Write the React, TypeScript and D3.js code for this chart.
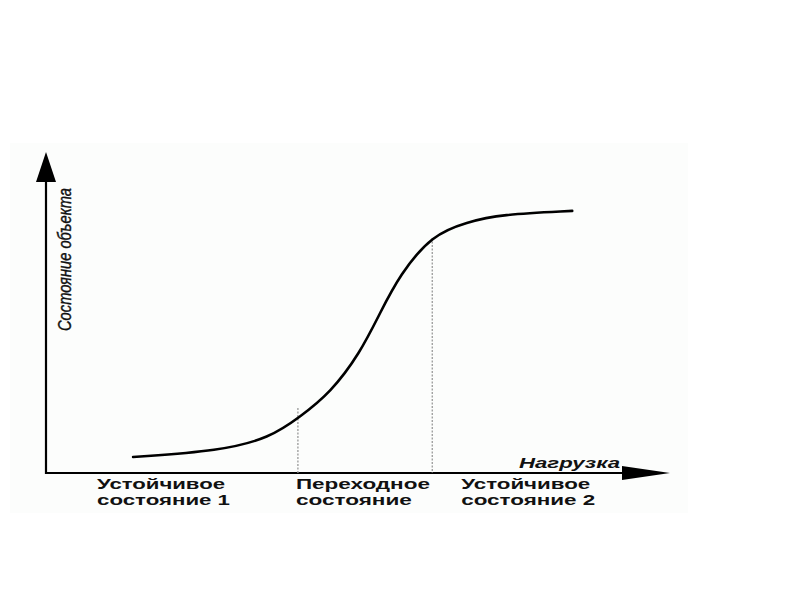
import { useRef, useEffect } from "react";
import * as d3 from "d3";

// load (x) and object state (y), both in 0..100 units
const loadValues: number[] = [14, 28, 36, 40.8, 45.7, 50.5, 53.7, 56.9, 62.1, 67.7, 73, 84.6];
const stateValues: number[] = [5, 6.9, 11, 17.5, 25, 37.5, 50, 62, 74.5, 78.4, 80.8, 81.9];

// borders of the transition zone and the top of their dotted guides
const zoneBounds: number[] = [40.5, 62.1];
const guideTops: number[] = [20.3, 73.4];

const zoneLabels: string[][] = [
  ["Устойчивое", "состояние 1"],
  ["Переходное", "состояние"],
  ["Устойчивое", "состояние 2"],
];
const xTitle = "Нагрузка";
const yTitle = "Состояние объекта";

const width = 800;
const height = 600;

const App = () => {
  const svgRef = useRef<SVGSVGElement>(null);

  useEffect(() => {
    const svg = d3.select(svgRef.current);
    svg.selectAll("*").remove();

    const xScale = d3.scaleLinear().domain([0, 100]).range([46, 668]);
    const yScale = d3.scaleLinear().domain([0, 100]).range([473, 153]);

    // faint scanned-page panel
    svg.append("rect")
      .attr("x", 10).attr("y", 143)
      .attr("width", 678).attr("height", 370)
      .attr("fill", "#fcfdfc");

    const x0 = xScale(0);
    const y0 = yScale(0);

    // axes
    svg.append("line")
      .attr("x1", x0).attr("y1", y0 + 1)
      .attr("x2", x0).attr("y2", yScale(100) + 20)
      .attr("stroke", "#000").attr("stroke-width", 2.2);
    svg.append("path")
      .attr("d", `M${x0},${yScale(100) - 1} L${x0 - 10},${yScale(100) + 29} L${x0 + 10},${yScale(100) + 29} Z`)
      .attr("fill", "#000");

    svg.append("line")
      .attr("x1", x0 - 1).attr("y1", y0)
      .attr("x2", xScale(100) - 30).attr("y2", y0)
      .attr("stroke", "#000").attr("stroke-width", 2.2);
    svg.append("path")
      .attr("d", `M${xScale(100) + 2},${y0} L${xScale(100) - 46},${y0 - 7} L${xScale(100) - 46},${y0 + 7} Z`)
      .attr("fill", "#000");

    // dotted zone borders
    svg.selectAll(".guide")
      .data(zoneBounds)
      .join("line")
      .attr("class", "guide")
      .attr("x1", d => xScale(d)).attr("x2", d => xScale(d))
      .attr("y1", (_, i) => yScale(guideTops[i]))
      .attr("y2", y0)
      .attr("stroke", "#9a9a9a")
      .attr("stroke-width", 1.3)
      .attr("stroke-dasharray", "2,1.5");

    // S-curve
    const pts: [number, number][] = loadValues.map((v, i) => [v, stateValues[i]]);
    const line = d3.line<[number, number]>()
      .x(d => xScale(d[0]))
      .y(d => yScale(d[1]))
      .curve(d3.curveBasis);
    svg.append("path")
      .attr("d", line(pts))
      .attr("fill", "none")
      .attr("stroke", "#000")
      .attr("stroke-width", 2.6)
      .attr("stroke-linecap", "round");

    // zone labels
    const labelX = [x0 + 51, xScale(zoneBounds[0]) - 2, xScale(zoneBounds[1]) + 29];
    const labelW = [[128, 133], [134, 116], [129, 134]];
    zoneLabels.forEach((lines, i) => {
      lines.forEach((t, j) => {
        svg.append("text")
          .attr("x", labelX[i])
          .attr("y", y0 + 16 + j * 16)
          .attr("font-family", "Liberation Sans, Arial, sans-serif")
          .attr("font-weight", "bold")
          .attr("font-size", 15)
          .attr("textLength", labelW[i][j])
          .attr("lengthAdjust", "spacingAndGlyphs")
          .attr("fill", "#111")
          .text(t);
      });
    });

    svg.append("text")
      .attr("x", xScale(100) - 149)
      .attr("y", y0 - 5)
      .attr("font-family", "Liberation Sans, Arial, sans-serif")
      .attr("font-weight", "bold")
      .attr("font-style", "italic")
      .attr("font-size", 15)
      .attr("textLength", 101)
      .attr("lengthAdjust", "spacingAndGlyphs")
      .attr("fill", "#111")
      .text(xTitle);

    svg.append("text")
      .attr("transform", `translate(${x0 + 25},331) rotate(-90)`)
      .attr("font-family", "Liberation Sans Narrow, Liberation Sans, Arial, sans-serif")
      .attr("font-style", "italic")
      .attr("font-size", 18)
      .attr("textLength", 143)
      .attr("lengthAdjust", "spacingAndGlyphs")
      .attr("fill", "#111")
      .attr("stroke", "#111")
      .attr("stroke-width", 0.4)
      .text(yTitle);
  }, []);

  return (
    <svg ref={svgRef} width={width} height={height}
      style={{ position: "absolute", left: 0, top: 0, background: "#fff" }} />
  );
};

export default App;
